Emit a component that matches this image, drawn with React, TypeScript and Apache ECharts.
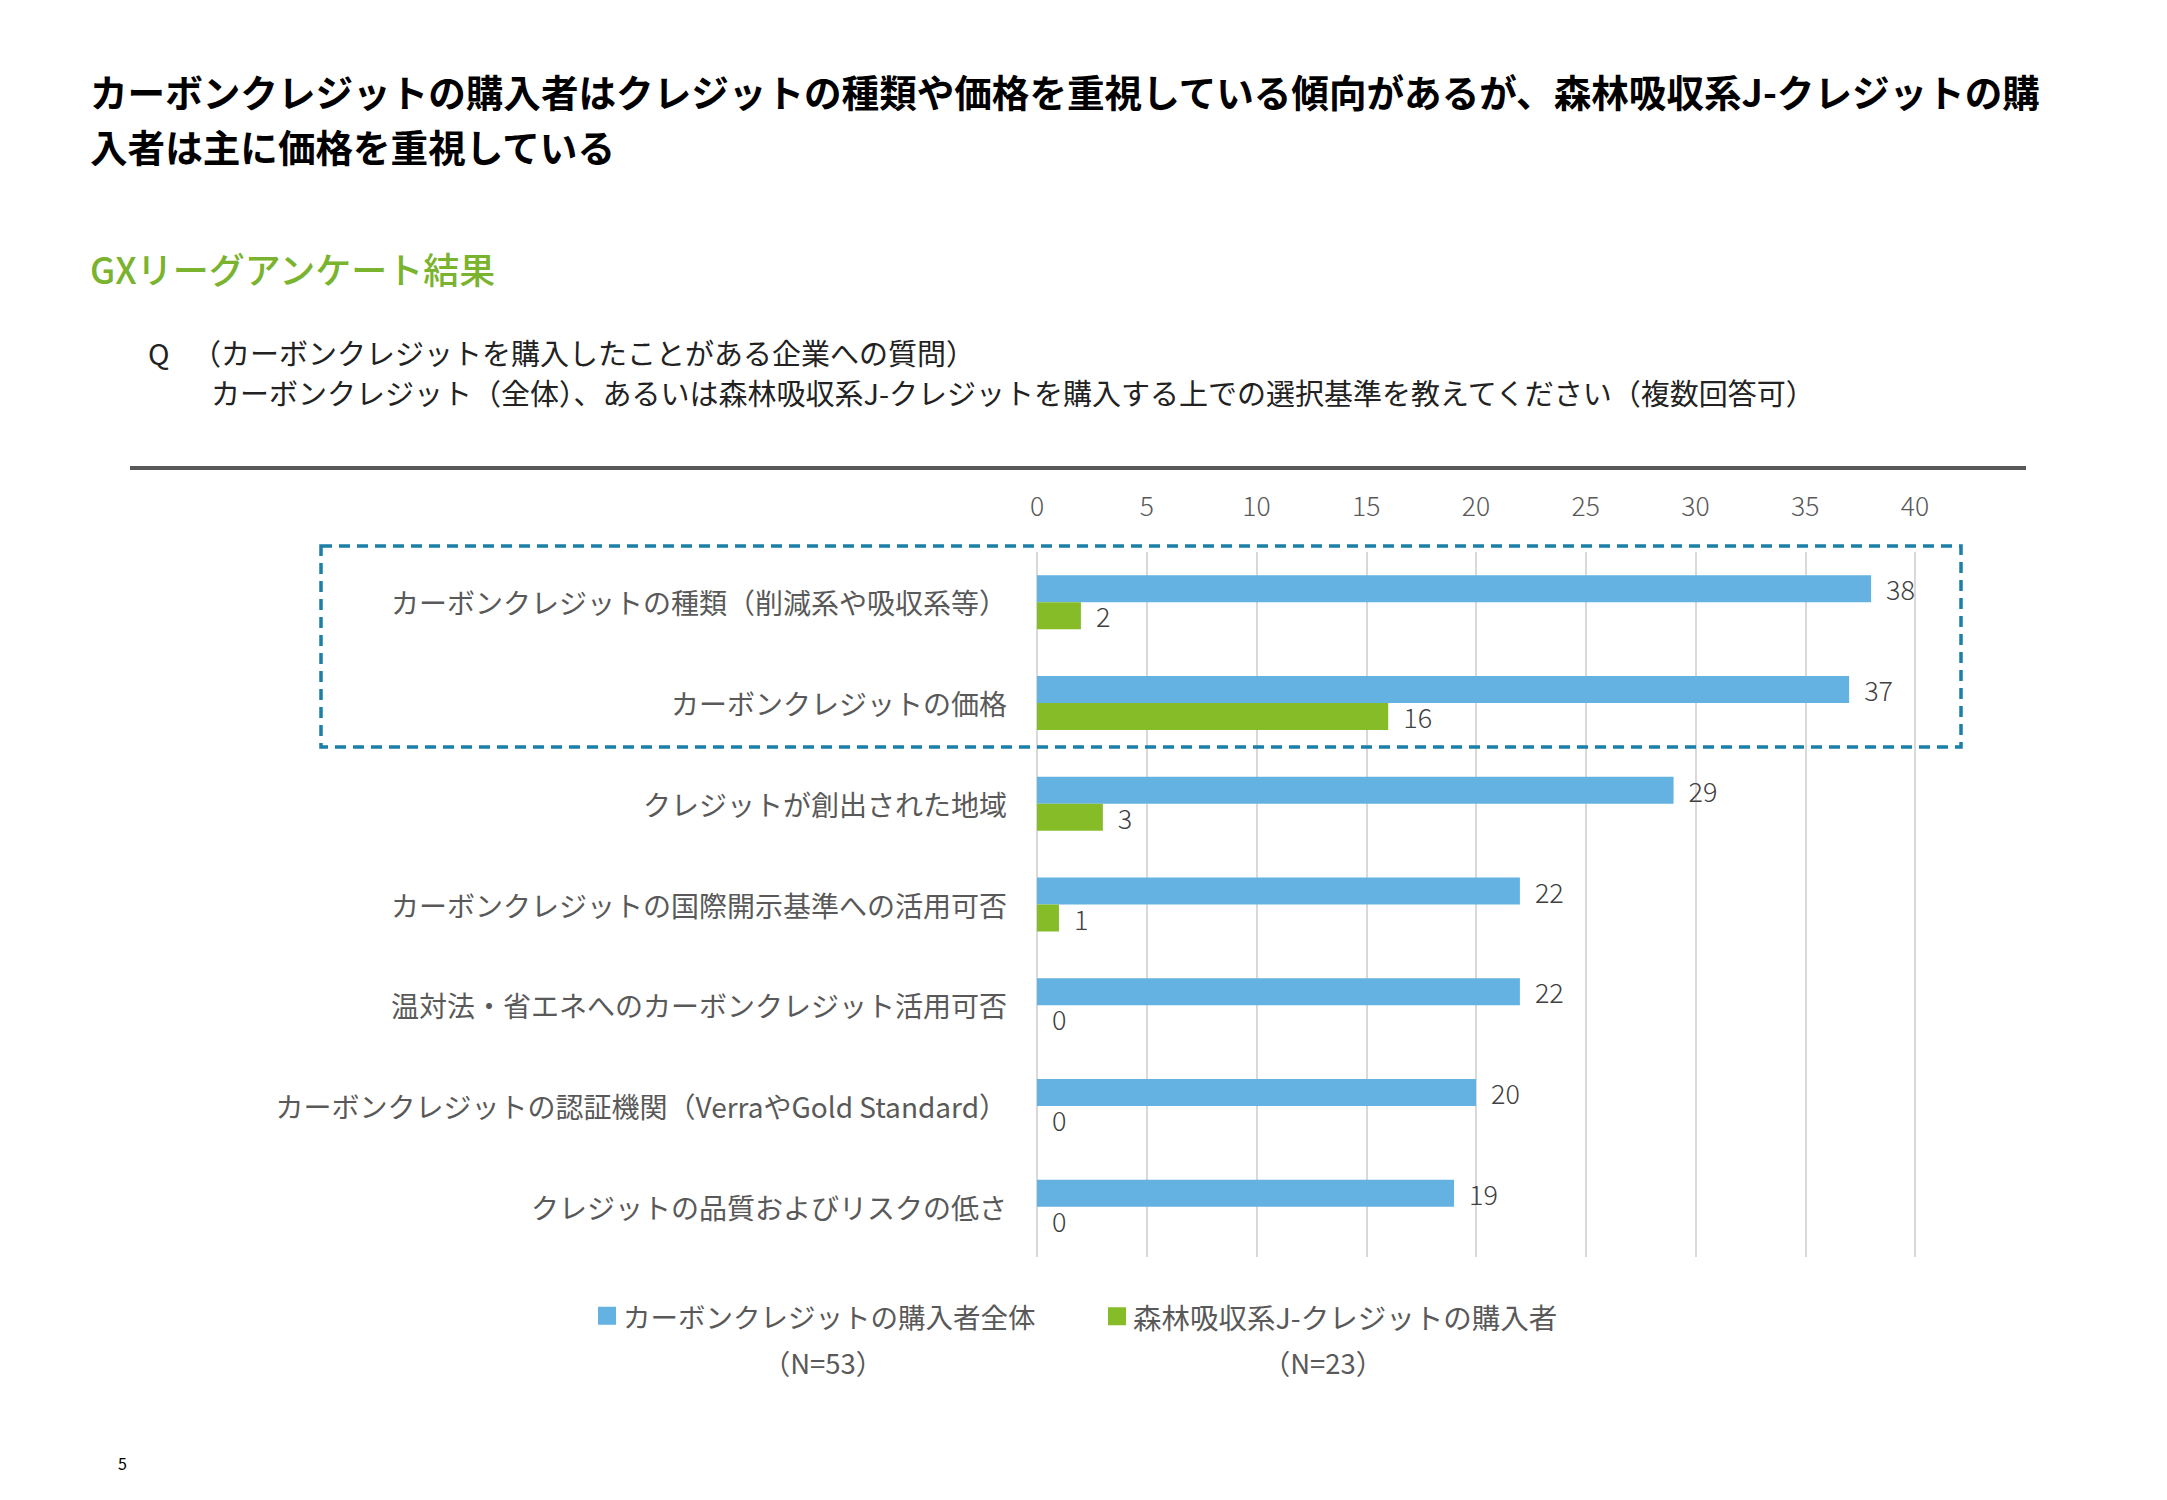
import React, { useEffect, useRef } from "react";
import * as echarts from "echarts";

const categories = [
  "カーボンクレジットの種類（削減系や吸収系等）",
  "カーボンクレジットの価格",
  "クレジットが創出された地域",
  "カーボンクレジットの国際開示基準への活用可否",
  "温対法・省エネへのカーボンクレジット活用可否",
  "カーボンクレジットの認証機関（VerraやGold Standard）",
  "クレジットの品質およびリスクの低さ",
];
const allBuyers = [38, 37, 29, 22, 22, 20, 19];
const forestBuyers = [2, 16, 3, 1, 0, 0, 0];
const seriesNames = ["カーボンクレジットの購入者全体", "森林吸収系J-クレジットの購入者"];
const sampleSizes = ["（N=53）", "（N=23）"];
const xTicks = { min: 0, max: 40, interval: 5 };

const FONT = '"Noto Sans CJK JP", "Noto Sans", sans-serif';
const BLUE = "#63b2e2";
const GREEN = "#85bc27";
const GRAY = "#595959";

export default function App() {
  const ref = useRef<HTMLDivElement>(null);
  useEffect(() => {
    if (!ref.current) return;
    const chart = echarts.init(ref.current, null, { renderer: "svg" });
    const valueLabel = {
      show: true,
      position: "right",
      distance: 15,
      color: "#404040",
      fontSize: 27,
      fontWeight: 300,
      fontFamily: FONT,
    };
    const option: any = {
      animation: false,
      backgroundColor: "#ffffff",
      textStyle: { fontFamily: FONT },
      grid: {
        left: 1037,
        top: 552,
        width: 878,
        height: 705,
        outerBoundsMode: "none",
        containLabel: false,
      },
      xAxis: {
        type: "value",
        position: "top",
        min: xTicks.min,
        max: xTicks.max,
        interval: xTicks.interval,
        axisLine: { show: false },
        axisTick: { show: false },
        axisLabel: { color: GRAY, fontSize: 26.5, fontWeight: 300, margin: 34, fontFamily: FONT },
        splitLine: { show: true, lineStyle: { color: "#d9d9d9", width: 2 } },
      },
      yAxis: {
        type: "category",
        inverse: true,
        data: categories,
        axisLine: { show: false },
        axisTick: { show: false },
        axisLabel: { color: GRAY, fontSize: 28, margin: 30, fontFamily: FONT },
      },
      legend: [
        {
          left: 598,
          top: 1302,
          padding: 0,
          itemWidth: 18,
          itemHeight: 18,
          icon: "rect",
          data: [seriesNames[0]],
          textStyle: { color: GRAY, fontSize: 27.5, fontFamily: FONT, padding: [0, 0, 0, 2] },
        },
        {
          left: 1108,
          top: 1302,
          padding: 0,
          itemWidth: 18,
          itemHeight: 18,
          icon: "rect",
          data: [seriesNames[1]],
          textStyle: { color: GRAY, fontSize: 28.5, fontFamily: FONT, padding: [0, 0, 0, 2] },
        },
      ],
      series: [
        {
          name: seriesNames[0],
          type: "bar",
          data: allBuyers,
          barWidth: 27,
          barGap: "0%",
          itemStyle: { color: BLUE },
          label: valueLabel,
        },
        {
          name: seriesNames[1],
          type: "bar",
          data: forestBuyers,
          barWidth: 27,
          barGap: "0%",
          itemStyle: { color: GREEN },
          label: valueLabel,
        },
      ],
      graphic: [
        {
          type: "text",
          left: 90,
          top: 72,
          style: {
            text: "カーボンクレジットの購入者はクレジットの種類や価格を重視している傾向があるが、森林吸収系J-クレジットの購",
            font: `bold 37.6px ${FONT}`,
            fill: "#000000",
          },
        },
        {
          type: "text",
          left: 90,
          top: 127,
          style: {
            text: "入者は主に価格を重視している",
            font: `bold 37.6px ${FONT}`,
            fill: "#000000",
          },
        },
        {
          type: "text",
          left: 90,
          top: 250,
          style: {
            text: "GXリーグアンケート結果",
            font: `500 36px ${FONT}`,
            fill: "#7ab32e",
          },
        },
        {
          type: "text",
          left: 148,
          top: 337,
          style: { text: "Q", font: `29px ${FONT}`, fill: "#222222" },
        },
        {
          type: "text",
          left: 192,
          top: 337,
          style: {
            text: "（カーボンクレジットを購入したことがある企業への質問）",
            font: `29px ${FONT}`,
            fill: "#222222",
          },
        },
        {
          type: "text",
          left: 211,
          top: 377,
          style: {
            text: "カーボンクレジット（全体）、あるいは森林吸収系J-クレジットを購入する上での選択基準を教えてください（複数回答可）",
            font: `29px ${FONT}`,
            fill: "#222222",
          },
        },
        {
          type: "rect",
          shape: { x: 130, y: 466, width: 1896, height: 4 },
          style: { fill: "#595959" },
        },
        {
          type: "rect",
          shape: { x: 321, y: 546, width: 1640, height: 201 },
          style: { fill: "none", stroke: "#1b7fa8", lineWidth: 3.5, lineDash: [11, 7] },
          z: 100,
        },
        {
          type: "text",
          x: 823,
          y: 1362,
          style: {
            text: sampleSizes[0],
            font: `27.5px ${FONT}`,
            fill: GRAY,
            align: "center",
            verticalAlign: "middle",
          },
        },
        {
          type: "text",
          x: 1323,
          y: 1362,
          style: {
            text: sampleSizes[1],
            font: `27.5px ${FONT}`,
            fill: GRAY,
            align: "center",
            verticalAlign: "middle",
          },
        },
        {
          type: "text",
          x: 118,
          y: 1463,
          style: {
            text: "5",
            font: `16px ${FONT}`,
            fill: "#000000",
            verticalAlign: "middle",
          },
        },
      ],
    };
    chart.setOption(option);
    return () => chart.dispose();
  }, []);
  return (
    <div
      ref={ref}
      style={{ position: "absolute", left: 0, top: 0, width: 2167, height: 1500, background: "#fff" }}
    />
  );
}
